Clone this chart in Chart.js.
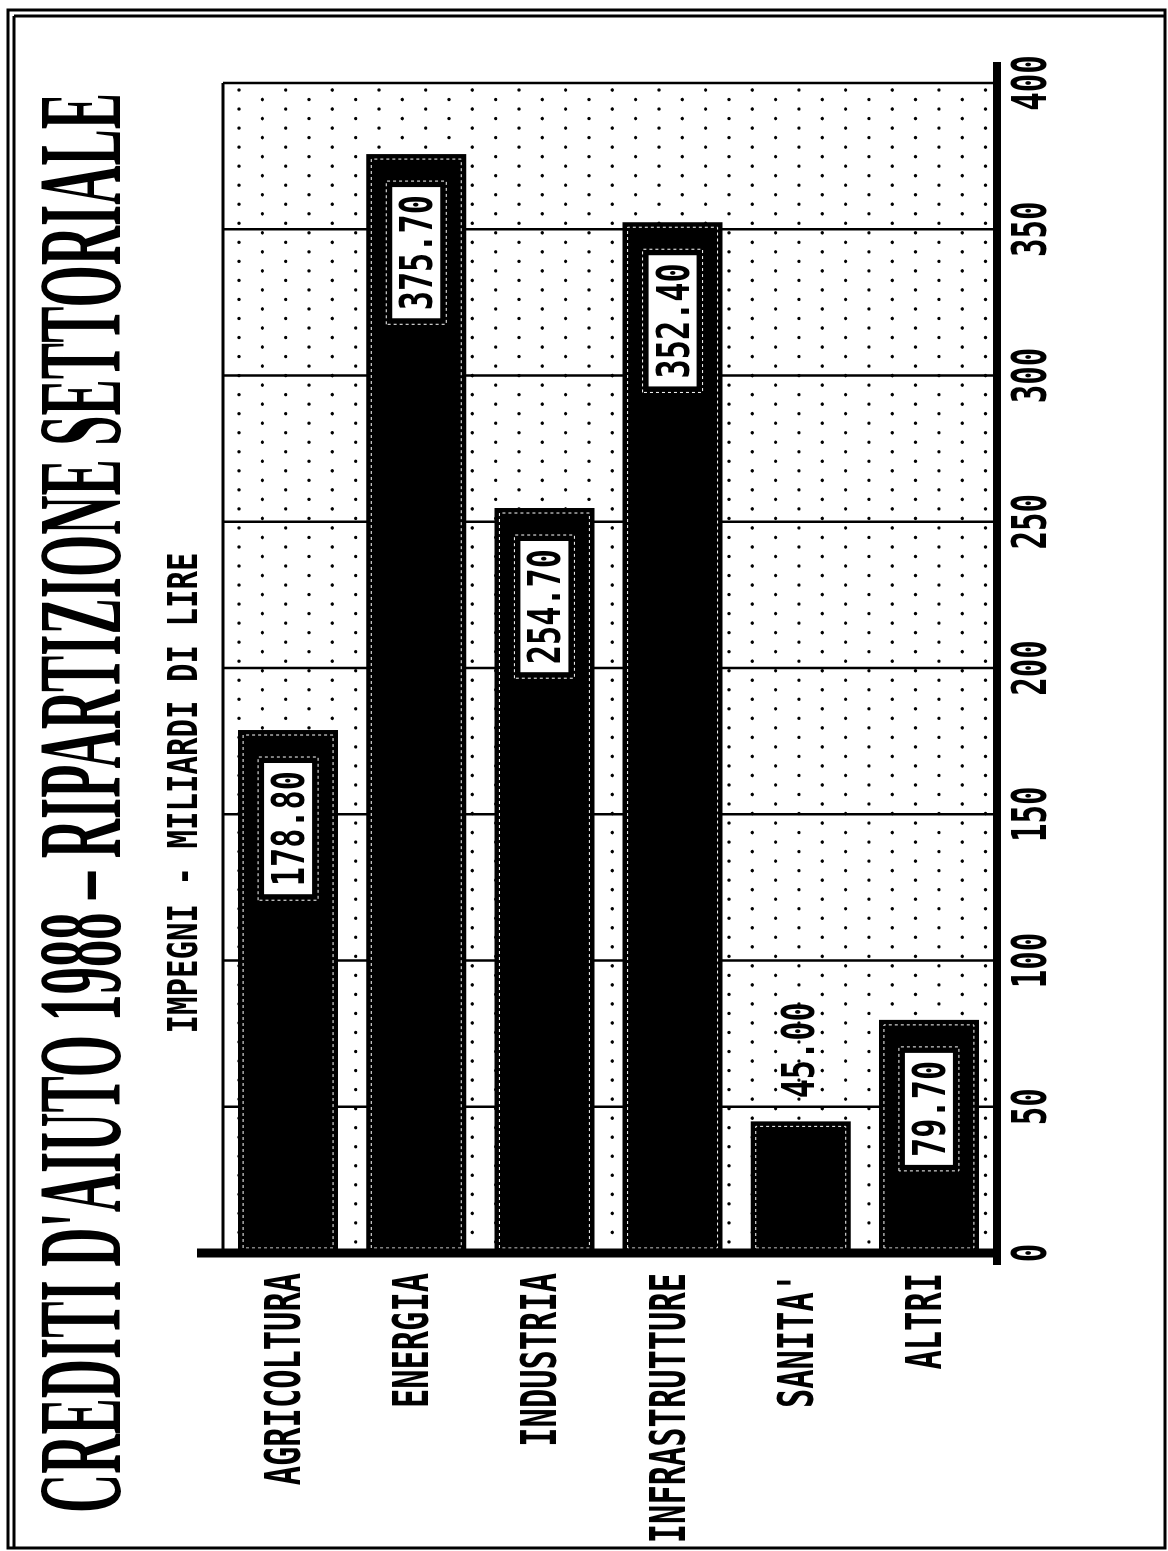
<!DOCTYPE html>
<html>
<head>
<meta charset="utf-8">
<title>Crediti d'aiuto 1988 - Ripartizione settoriale</title>
<script src="https://cdn.jsdelivr.net/npm/chart.js@4.4.0/dist/chart.umd.min.js"></script>
<style>
  html, body { margin: 0; padding: 0; background: #fff; overflow: hidden; }
  #wrap { position: relative; width: 1168px; height: 1551px; }
  /* il grafico e' orizzontale, la pagina lo mostra ruotato di 90 gradi */
  #grafica { position: absolute; left: 0; top: 0; transform-origin: 0 0; transform: translate(0, 1551px) rotate(-90deg); }
</style>
</head>
<body>
<div id="wrap"><canvas id="grafica" width="1551" height="1168"></canvas></div>
<script>
const titolo = "CREDITI D'AIUTO 1988 – RIPARTIZIONE SETTORIALE";
const sottotitolo = 'IMPEGNI - MILIARDI DI LIRE';
const settori = ['AGRICOLTURA', 'ENERGIA', 'INDUSTRIA', 'INFRASTRUTTURE', "SANITA'", 'ALTRI'];
const impegni = [178.80, 375.70, 254.70, 352.40, 45.00, 79.70];
const tickValori = [0, 50, 100, 150, 200, 250, 300, 350, 400];

const MONO = '"DejaVu Sans Mono"';
const SERIF = '"Liberation Serif"';

// testo stirato: larghezza e altezza delle maiuscole fissate, y = centro
function scritta(ctx, testo, x, y, o) {
    const size = 40;
    ctx.save();
    ctx.font = (o.weight || 'normal') + ' ' + size + 'px ' + o.family;
    const w = ctx.measureText(testo).width;
    ctx.translate(x, y + o.cap / 2);
    ctx.scale(o.width / w, o.cap / (o.capRatio * size));
    ctx.textAlign = o.align || 'left';
    ctx.textBaseline = 'alphabetic';
    ctx.fillStyle = o.color || '#000';
    ctx.fillText(testo, 0, 0);
    ctx.restore();
}

function linea(ctx, x0, y0, x1, y1) {
    ctx.beginPath();
    ctx.moveTo(x0, y0);
    ctx.lineTo(x1, y1);
    ctx.stroke();
}

const decorazioni = {
    id: 'decorazioni',
    beforeDraw(chart) {
        const ctx = chart.ctx;
        ctx.save();
        ctx.fillStyle = '#fff';
        ctx.fillRect(0, 0, chart.width, chart.height);
        ctx.restore();
    },
    beforeDatasetsDraw(chart) {
        const { ctx, chartArea: a, scales: { x } } = chart;
        ctx.save();
        // fondo puntinato
        ctx.fillStyle = '#000';
        let col = 0;
        for (let v = a.top + 15; v < a.bottom; v += 23.33, col++) {
            for (let u = a.right - 7 - (col % 2 ? 9.52 : 0); u > a.left + 3; u -= 19.04) {
                ctx.beginPath();
                ctx.arc(u, v, 1.7, 0, Math.PI * 2);
                ctx.fill();
            }
        }
        // griglia
        ctx.strokeStyle = '#000';
        ctx.lineWidth = 2.5;
        tickValori.forEach(t => {
            if (t === 0) return;
            const u = x.getPixelForValue(t);
            linea(ctx, u, a.top - 1, u, a.bottom);
        });
        ctx.lineWidth = 3;
        linea(ctx, x.getPixelForValue(0), a.top - 1, x.getPixelForValue(400), a.top - 1);
        ctx.restore();
    },
    afterDatasetsDraw(chart) {
        const { ctx, chartArea: a, scales: { x, y } } = chart;
        ctx.save();

        // barre: filo tratteggiato interno ed etichetta del valore
        chart.getDatasetMeta(0).data.forEach((bar, i) => {
            const p = bar.getProps(['x', 'y', 'base', 'height'], true);
            const x0 = Math.min(p.base, p.x), x1 = Math.max(p.base, p.x);
            const y0 = p.y - p.height / 2;
            ctx.strokeStyle = '#fff';
            ctx.lineWidth = 1;
            ctx.setLineDash([3, 3]);
            ctx.strokeRect(x0 + 5, y0 + 5, x1 - x0 - 10, p.height - 10);

            const testo = impegni[i].toFixed(2);
            const lungh = testo.length * 19.2 + 16;
            if (x1 - x0 > lungh + 45) {
                const bx = x1 - 33 - lungh;
                ctx.fillStyle = '#fff';
                ctx.fillRect(bx, p.y - 24, lungh, 48);
                ctx.strokeRect(bx - 6, p.y - 30, lungh + 12, 60);
                scritta(ctx, testo, bx + lungh / 2, p.y, { family: MONO, weight: 'bold', capRatio: 0.729, cap: 32, width: testo.length * 19.2, align: 'center' });
            } else {
                scritta(ctx, testo, x1 + 23, p.y - 3, { family: MONO, weight: 'bold', capRatio: 0.729, cap: 33, width: testo.length * 19.2 });
            }
        });
        ctx.setLineDash([]);

        // assi
        const u0 = x.getPixelForValue(0), u400 = x.getPixelForValue(400);
        ctx.strokeStyle = '#000';
        ctx.lineWidth = 9;
        linea(ctx, u0, a.top - 27, u0, a.bottom + 8);
        ctx.lineWidth = 8;
        linea(ctx, u0 - 12, a.bottom + 4, u400 + 21, a.bottom + 4);

        // etichette dei valori sull'asse
        tickValori.forEach(t => {
            const s = String(t);
            scritta(ctx, s, x.getPixelForValue(t), a.bottom + 35, { family: MONO, weight: 'bold', capRatio: 0.729, cap: 35, width: s.length * 18.5, align: 'center' });
        });

        // settori
        settori.forEach((s, i) => {
            scritta(ctx, s, u0 - 20, y.getPixelForValue(i) - 6, { family: MONO, weight: 'bold', capRatio: 0.729, cap: 36, width: s.length * 19.3, align: 'right' });
        });

        // titolo e sottotitolo
        scritta(ctx, titolo, 748, 81, { family: SERIF, weight: 'bold', capRatio: 0.662, cap: 78, width: 1420, align: 'center' });
        scritta(ctx, sottotitolo, 758, 182, { family: MONO, weight: 'bold', capRatio: 0.729, cap: 30, width: sottotitolo.length * 18.5, align: 'center' });

        // cornice
        ctx.lineWidth = 3;
        ctx.strokeRect(3, 8, 1538, 1157);
        linea(ctx, 3, 14, 1535, 14);
        linea(ctx, 1535, 14, 1535, 1165);
        ctx.restore();
    }
};

const canvas = document.getElementById('grafica');
new Chart(canvas.getContext('2d'), {
    type: 'bar',
    data: {
        labels: settori,
        datasets: [{
            label: 'Impegni',
            data: impegni,
            backgroundColor: '#000',
            borderWidth: 0,
            barPercentage: 0.78,
            categoryPercentage: 1
        }]
    },
    options: {
        indexAxis: 'y',
        responsive: false,
        animation: false,
        layout: { padding: { left: 298, right: 83, top: 224, bottom: 175 } },
        scales: {
            x: { display: false, min: 0, max: 400 },
            y: { display: false }
        },
        plugins: {
            legend: { display: false },
            tooltip: { enabled: false }
        }
    },
    plugins: [decorazioni]
});
</script>
</body>
</html>
